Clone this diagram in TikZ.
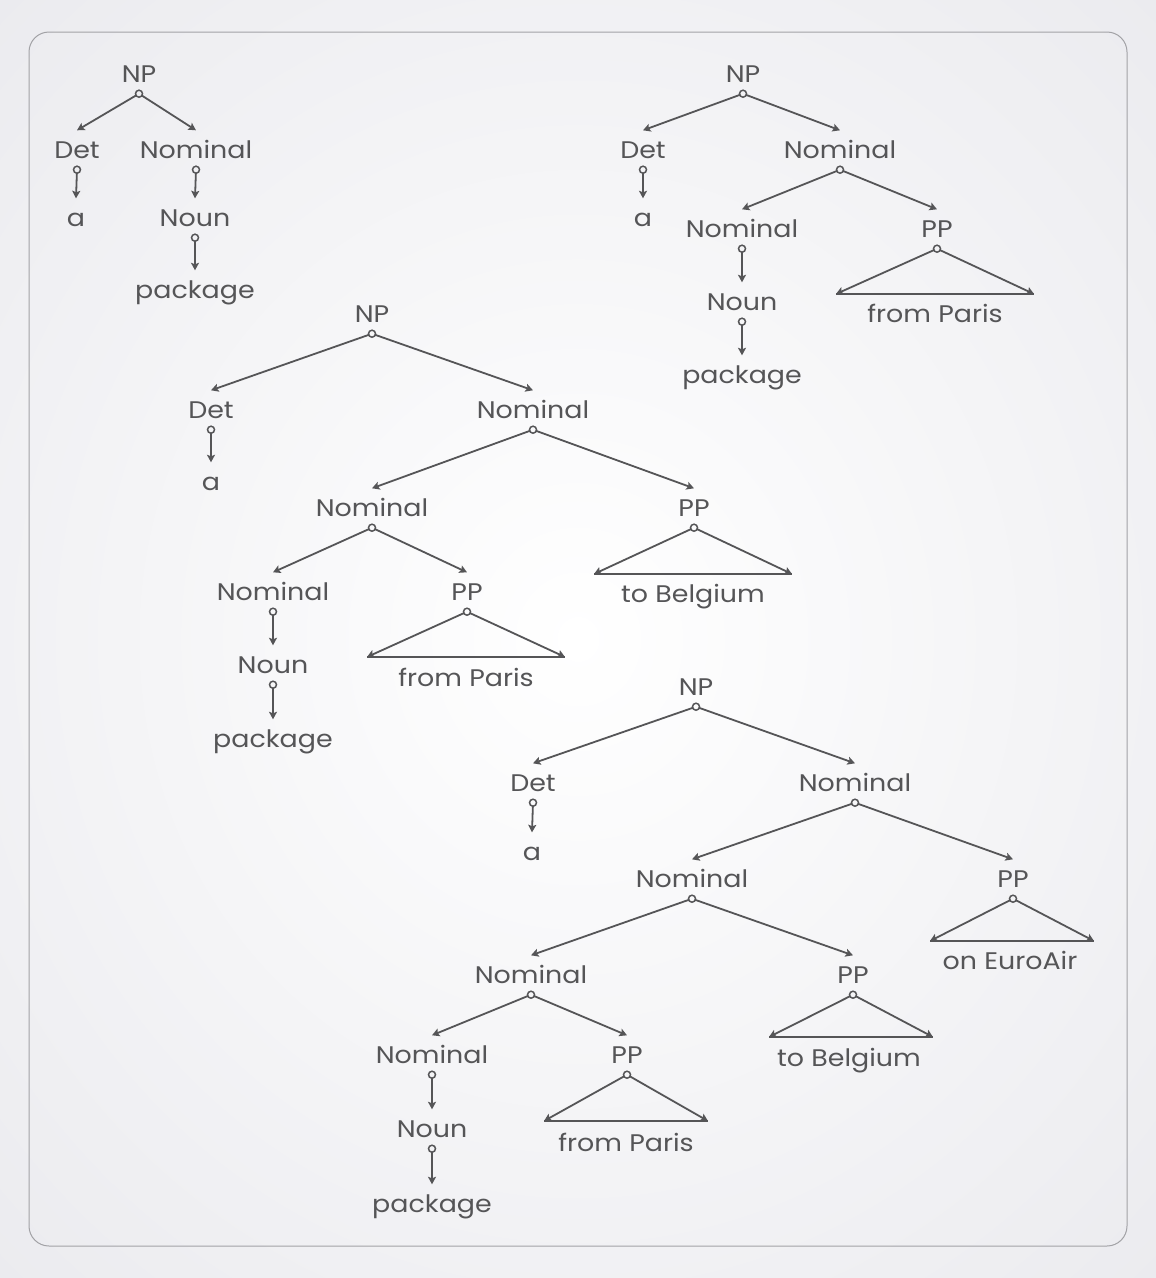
\documentclass[tikz,border=0pt]{standalone}
\usepackage{fontspec}
\setmainfont[FakeStretch=1.12]{Poppins}
\usepackage{xcolor}
\usepackage{tikz}
\usetikzlibrary{arrows.meta}
\pgfdeclarelayer{bglayer}
\pgfdeclarelayer{nodelayer}
\pgfdeclarelayer{edgelayer}
\pgfsetlayers{bglayer,nodelayer,edgelayer,main}
\definecolor{ink}{HTML}{555557}
\definecolor{paper}{HTML}{EAEAEE}
\definecolor{rim}{HTML}{A2A2A6}
\tikzset{
    cat/.style = {text=ink, font=\fontsize{24}{28}\selectfont, text height=17pt, text depth=0pt, inner xsep=0pt, inner ysep=11pt},
    edge/.style = {draw=ink, line width=1.8pt, shorten <=3.5pt, -{Stealth[length=7.5pt,width=8pt,inset=1.5pt]}},
    base/.style = {draw=ink, line width=1.8pt},
    knob/.style = {draw=ink, line width=1.5pt}
}

\begin{document}
\begin{tikzpicture}[x=1pt,y=-1pt]
    \useasboundingbox (0,0) rectangle (1156,1278);
    \begin{pgfonlayer}{bglayer}
        \shade[inner color=white, outer color=paper] (-300,-300) rectangle (1456,1578);
        \draw[rim, line width=1pt, rounded corners=20pt] (29,32) rectangle (1127,1246);
    \end{pgfonlayer}
    \begin{pgfonlayer}{nodelayer}
        % a package
        \node [cat] (npa) at (139,74) {NP};
        \node [cat] (deta) at (77,150) {Det};
        \node [cat] (noma) at (196,150) {Nominal};
        \node [cat] (aa) at (76,218) {a};
        \node [cat] (nouna) at (195,218) {Noun};
        \node [cat] (pkga) at (195,290) {package};
        % a package from Paris
        \node [cat] (npb) at (743,74) {NP};
        \node [cat] (detb) at (643,150) {Det};
        \node [cat] (nomb) at (840,150) {Nominal};
        \node [cat] (ab) at (643,218) {a};
        \node [cat] (nomb2) at (742,229) {Nominal};
        \node [cat] (ppb) at (937,229) {PP};
        \node [cat] (nounb) at (742,302) {Noun};
        \node [cat] (pkgb) at (742,375) {package};
        \node [cat] (txtb) at (935,314) {from Paris};
        \coordinate (ppbl) at (836,294);
        \coordinate (ppbr) at (1034,294);
        % a package from Paris to Belgium
        \node [cat] (npc) at (372,314) {NP};
        \node [cat] (detc) at (211,410) {Det};
        \node [cat] (nomc) at (533,410) {Nominal};
        \node [cat] (ac) at (211,482) {a};
        \node [cat] (nomc2) at (372,508) {Nominal};
        \node [cat] (ppc2) at (694,508) {PP};
        \node [cat] (nomc3) at (273,592) {Nominal};
        \node [cat] (ppc3) at (467,592) {PP};
        \node [cat] (nounc) at (273,665) {Noun};
        \node [cat] (pkgc) at (273,739) {package};
        \node [cat] (txtc3) at (466,678) {from Paris};
        \coordinate (ppc3l) at (367,657);
        \coordinate (ppc3r) at (565,657);
        \node [cat] (txtc2) at (693,594) {to Belgium};
        \coordinate (ppc2l) at (594,574);
        \coordinate (ppc2r) at (792,574);
        % a package from Paris to Belgium on EuroAir
        \node [cat] (npd) at (696,687) {NP};
        \node [cat] (detd) at (533,783) {Det};
        \node [cat] (nomd) at (855,783) {Nominal};
        \node [cat] (ad) at (532,852) {a};
        \node [cat] (nomd2) at (692,879) {Nominal};
        \node [cat] (ppd2) at (1013,879) {PP};
        \node [cat] (nomd3) at (531,975) {Nominal};
        \node [cat] (ppd3) at (853,975) {PP};
        \node [cat] (nomd4) at (432,1055) {Nominal};
        \node [cat] (ppd4) at (627,1055) {PP};
        \node [cat] (nound) at (432,1129) {Noun};
        \node [cat] (pkgd) at (432,1204) {package};
        \node [cat] (txtd2) at (1010,961) {on EuroAir};
        \coordinate (ppd2l) at (930,941);
        \coordinate (ppd2r) at (1094,941);
        \node [cat] (txtd3) at (849,1058) {to Belgium};
        \coordinate (ppd3l) at (769,1037);
        \coordinate (ppd3r) at (933,1037);
        \node [cat] (txtd4) at (626,1143) {from Paris};
        \coordinate (ppd4l) at (544,1121);
        \coordinate (ppd4r) at (708,1121);
    \end{pgfonlayer}
    \begin{pgfonlayer}{edgelayer}
        \draw [edge] (npa.south) to (deta.north);
        \draw [edge] (npa.south) to (noma.north);
        \draw [edge] (deta.south) to (aa.north);
        \draw [edge] (noma.south) to (nouna.north);
        \draw [edge] (nouna.south) to (pkga.north);

        \draw [edge] (npb.south) to (detb.north);
        \draw [edge] (npb.south) to (nomb.north);
        \draw [edge] (detb.south) to (ab.north);
        \draw [edge] (nomb.south) to (nomb2.north);
        \draw [edge] (nomb.south) to (ppb.north);
        \draw [edge] (nomb2.south) to (nounb.north);
        \draw [edge] (nounb.south) to (pkgb.north);
        % Triangle for the unexpanded PP
        \draw [edge] (ppb.south) to (ppbl);
        \draw [edge] (ppb.south) to (ppbr);
        \draw [base] (ppbl) to (ppbr);

        \draw [edge] (npc.south) to (detc.north);
        \draw [edge] (npc.south) to (nomc.north);
        \draw [edge] (detc.south) to (ac.north);
        \draw [edge] (nomc.south) to (nomc2.north);
        \draw [edge] (nomc.south) to (ppc2.north);
        \draw [edge] (nomc2.south) to (nomc3.north);
        \draw [edge] (nomc2.south) to (ppc3.north);
        \draw [edge] (nomc3.south) to (nounc.north);
        \draw [edge] (nounc.south) to (pkgc.north);
        \draw [edge] (ppc3.south) to (ppc3l);
        \draw [edge] (ppc3.south) to (ppc3r);
        \draw [base] (ppc3l) to (ppc3r);
        \draw [edge] (ppc2.south) to (ppc2l);
        \draw [edge] (ppc2.south) to (ppc2r);
        \draw [base] (ppc2l) to (ppc2r);

        \draw [edge] (npd.south) to (detd.north);
        \draw [edge] (npd.south) to (nomd.north);
        \draw [edge] (detd.south) to (ad.north);
        \draw [edge] (nomd.south) to (nomd2.north);
        \draw [edge] (nomd.south) to (ppd2.north);
        \draw [edge] (nomd2.south) to (nomd3.north);
        \draw [edge] (nomd2.south) to (ppd3.north);
        \draw [edge] (nomd3.south) to (nomd4.north);
        \draw [edge] (nomd3.south) to (ppd4.north);
        \draw [edge] (nomd4.south) to (nound.north);
        \draw [edge] (nound.south) to (pkgd.north);
        \draw [edge] (ppd2.south) to (ppd2l);
        \draw [edge] (ppd2.south) to (ppd2r);
        \draw [base] (ppd2l) to (ppd2r);
        \draw [edge] (ppd3.south) to (ppd3l);
        \draw [edge] (ppd3.south) to (ppd3r);
        \draw [base] (ppd3l) to (ppd3r);
        \draw [edge] (ppd4.south) to (ppd4l);
        \draw [edge] (ppd4.south) to (ppd4r);
        \draw [base] (ppd4l) to (ppd4r);
        % Small open circle where each branch leaves its parent
        \foreach \p in {npa,deta,noma,nouna,npb,detb,nomb,nomb2,nounb,ppb,
                        npc,detc,nomc,nomc2,nomc3,nounc,ppc2,ppc3,
                        npd,detd,nomd,nomd2,nomd3,nomd4,nound,ppd2,ppd3,ppd4}
            \draw [knob] (\p.south) circle (3.5pt);
    \end{pgfonlayer}
\end{tikzpicture}
\end{document}
